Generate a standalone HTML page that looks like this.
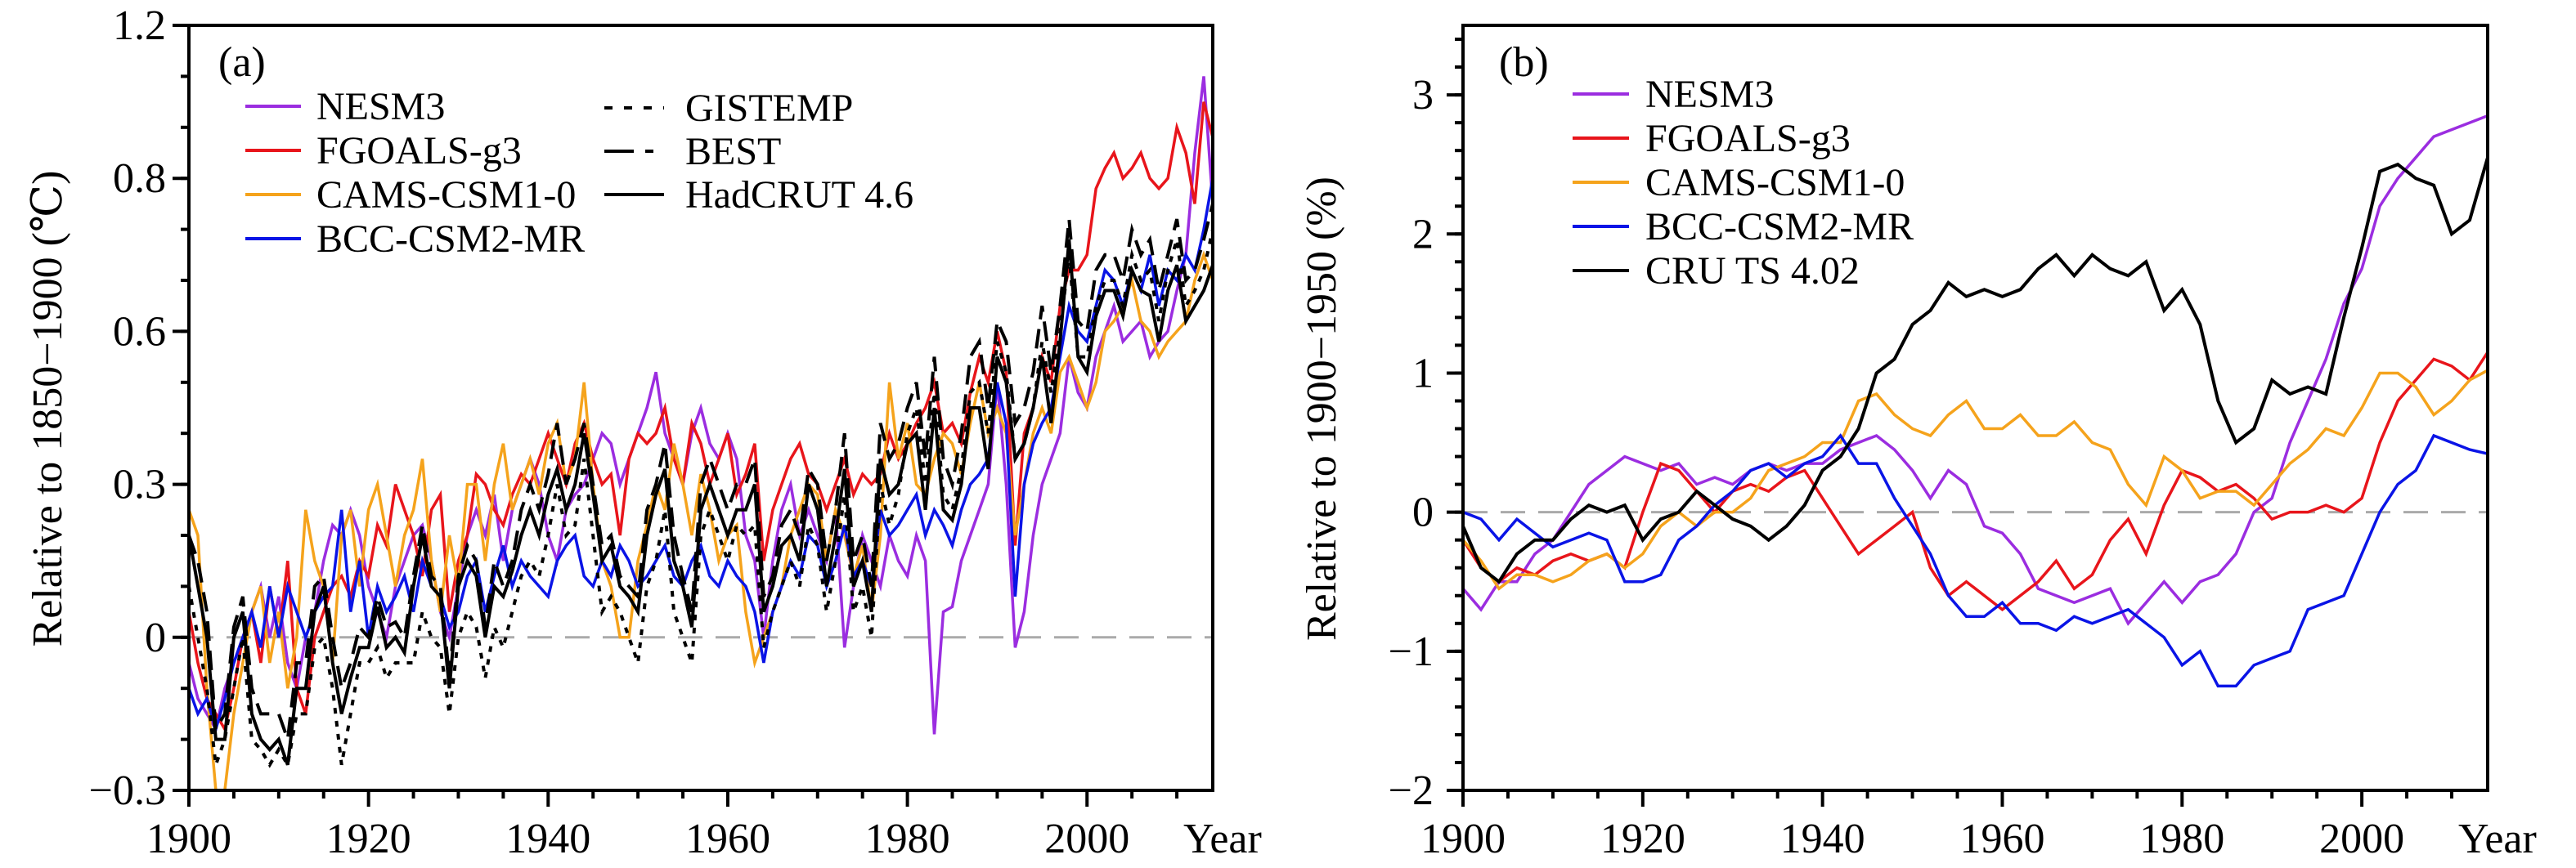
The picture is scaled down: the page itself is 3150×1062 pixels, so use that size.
<!DOCTYPE html>
<html><head><meta charset="utf-8"><title>Temperature and precipitation anomalies chart</title>
<style>
html,body{margin:0;padding:0;background:#fff;}
svg{display:block;}
svg text{font-family:"Liberation Serif","DejaVu Serif",serif;}
</style></head>
<body>
<svg id="chart" xmlns="http://www.w3.org/2000/svg" width="3150" height="1062" viewBox="0 0 3150 1062" font-family="Liberation Serif, serif">
<rect width="3150" height="1062" fill="#fff"/>
<g id="pa"></g>
<g id="pb"></g>
</svg>
<script>
// ---------- Panel (a) data: annual 1900-2014 ----------
const yearsAStart = 1900;
const hadcrut = [0.2,0.1,0.0,-0.2,-0.2,0.0,0.05,-0.15,-0.2,-0.22,
-0.2,-0.25,-0.1,-0.1,0.05,0.1,-0.05,-0.15,-0.08,-0.02,
-0.02,0.06,-0.02,0.0,-0.03,0.1,0.2,0.1,0.08,-0.1,
0.1,0.15,0.12,0.0,0.1,0.08,0.13,0.2,0.25,0.2,
0.28,0.33,0.25,0.3,0.4,0.28,0.15,0.18,0.1,0.08,
0.05,0.2,0.28,0.33,0.15,0.1,0.02,0.25,0.3,0.25,
0.2,0.25,0.25,0.3,0.05,0.1,0.18,0.2,0.15,0.3,
0.25,0.1,0.2,0.33,0.1,0.15,0.05,0.35,0.28,0.3,
0.38,0.4,0.25,0.45,0.25,0.23,0.3,0.45,0.45,0.33,
0.55,0.5,0.35,0.38,0.45,0.55,0.42,0.58,0.78,0.55,
0.52,0.63,0.68,0.68,0.63,0.72,0.68,0.67,0.58,0.68,
0.73,0.62,0.65,0.68,0.73];
const gistemp = [0.1,0.0,-0.1,-0.25,-0.2,-0.1,0.0,-0.2,-0.22,-0.25,
-0.22,-0.25,-0.15,-0.15,-0.02,0.0,-0.1,-0.25,-0.15,-0.05,
-0.05,-0.02,-0.08,-0.05,-0.05,-0.05,0.05,0.0,-0.02,-0.15,
0.0,0.05,0.02,-0.08,0.02,-0.02,0.05,0.12,0.15,0.12,
0.2,0.3,0.2,0.22,0.35,0.2,0.05,0.08,0.05,0.0,
-0.05,0.1,0.15,0.25,0.05,0.0,-0.05,0.2,0.25,0.2,
0.15,0.22,0.2,0.22,-0.02,0.05,0.1,0.15,0.1,0.22,
0.18,0.05,0.15,0.28,0.05,0.1,0.0,0.3,0.22,0.28,
0.4,0.45,0.3,0.48,0.28,0.25,0.33,0.48,0.5,0.4,
0.58,0.52,0.35,0.38,0.45,0.58,0.48,0.6,0.75,0.55,
0.55,0.65,0.7,0.7,0.65,0.75,0.7,0.72,0.62,0.72,
0.78,0.65,0.68,0.72,0.8];
const best = [0.2,0.15,0.05,-0.18,-0.15,0.02,0.08,-0.1,-0.15,-0.15,
-0.15,-0.2,-0.05,-0.05,0.1,0.12,0.0,-0.1,-0.05,0.02,
0.0,0.08,0.02,0.03,0.0,0.12,0.22,0.12,0.1,-0.08,
0.12,0.18,0.15,0.02,0.15,0.1,0.15,0.25,0.3,0.25,
0.32,0.42,0.3,0.35,0.42,0.3,0.18,0.2,0.12,0.1,
0.08,0.25,0.3,0.38,0.2,0.12,0.05,0.3,0.35,0.3,
0.25,0.3,0.3,0.35,0.08,0.12,0.22,0.25,0.2,0.33,
0.3,0.15,0.25,0.4,0.15,0.2,0.1,0.42,0.35,0.38,
0.45,0.5,0.35,0.55,0.35,0.3,0.4,0.55,0.58,0.45,
0.62,0.58,0.42,0.45,0.52,0.65,0.52,0.65,0.82,0.62,
0.6,0.72,0.75,0.75,0.7,0.8,0.75,0.78,0.68,0.75,
0.82,0.7,0.72,0.78,0.85];
const nesm3A = [-0.05,-0.12,-0.15,-0.18,-0.1,-0.05,0.0,0.05,0.1,0.0,
0.08,-0.05,-0.1,0.0,0.05,0.15,0.22,0.2,0.25,0.2,
0.1,0.05,0.0,0.1,0.15,0.2,0.22,0.15,0.05,0.0,
0.1,0.2,0.25,0.2,0.28,0.15,0.25,0.3,0.35,0.3,
0.2,0.15,0.25,0.28,0.3,0.35,0.4,0.38,0.3,0.35,
0.4,0.45,0.52,0.4,0.35,0.3,0.4,0.45,0.38,0.35,
0.4,0.35,0.2,0.15,0.0,0.15,0.25,0.3,0.2,0.25,
0.2,0.15,0.25,-0.02,0.1,0.2,0.15,0.1,0.2,0.15,
0.12,0.2,0.15,-0.19,0.05,0.06,0.15,0.2,0.25,0.3,
0.5,0.3,-0.02,0.05,0.2,0.3,0.35,0.4,0.55,0.48,
0.45,0.55,0.6,0.65,0.58,0.6,0.62,0.55,0.58,0.6,
0.68,0.75,0.95,1.1,0.85];
const fgoalsA = [0.05,-0.05,-0.12,-0.15,-0.18,-0.1,0.0,0.05,-0.05,0.1,
0.0,0.15,-0.1,-0.15,0.0,0.05,0.1,0.12,0.08,0.15,
0.12,0.22,0.18,0.3,0.25,0.2,0.12,0.25,0.28,0.05,
0.15,0.2,0.32,0.3,0.25,0.22,0.28,0.32,0.3,0.35,
0.4,0.35,0.3,0.38,0.42,0.35,0.3,0.32,0.2,0.35,
0.4,0.38,0.4,0.45,0.35,0.3,0.42,0.38,0.3,0.35,
0.4,0.28,0.32,0.38,0.15,0.25,0.3,0.35,0.38,0.32,
0.3,0.25,0.3,0.35,0.28,0.32,0.3,0.32,0.4,0.35,
0.38,0.42,0.45,0.5,0.4,0.42,0.38,0.48,0.55,0.5,
0.6,0.52,0.18,0.4,0.45,0.55,0.5,0.65,0.72,0.72,
0.75,0.88,0.92,0.95,0.9,0.92,0.95,0.9,0.88,0.9,
1.0,0.95,0.85,1.05,0.98];
const camsA = [0.25,0.2,-0.1,-0.3,-0.3,-0.15,-0.05,0.05,0.1,-0.05,
0.05,-0.1,0.0,0.25,0.15,0.1,-0.05,0.2,0.25,0.1,
0.25,0.3,0.2,0.1,0.2,0.25,0.35,0.15,0.05,0.2,
0.1,0.3,0.3,0.15,0.3,0.38,0.25,0.3,0.35,0.28,
0.38,0.42,0.3,0.35,0.5,0.3,0.15,0.1,0.0,0.0,
0.15,0.22,0.3,0.25,0.38,0.3,0.2,0.32,0.25,0.15,
0.2,0.22,0.05,-0.05,0.0,0.05,0.1,0.2,0.25,0.3,
0.28,0.15,0.25,0.2,0.12,0.18,0.05,0.2,0.5,0.35,
0.42,0.3,0.28,0.35,0.4,0.38,0.32,0.42,0.5,0.4,
0.45,0.4,0.2,0.3,0.4,0.45,0.4,0.52,0.55,0.5,
0.45,0.5,0.6,0.62,0.65,0.7,0.62,0.6,0.55,0.58,
0.6,0.62,0.7,0.75,0.7];
const bccA = [-0.1,-0.15,-0.12,-0.18,-0.12,-0.05,0.0,0.05,-0.02,0.1,
0.0,0.1,0.05,0.0,0.05,0.08,0.1,0.25,0.05,0.15,
0.0,0.1,0.05,0.08,0.12,0.05,0.15,0.1,0.08,0.02,
0.05,0.12,0.15,0.05,0.12,0.18,0.1,0.15,0.12,0.1,
0.08,0.15,0.18,0.2,0.12,0.1,0.15,0.12,0.18,0.15,
0.1,0.12,0.15,0.18,0.12,0.1,0.15,0.18,0.12,0.1,
0.15,0.12,0.1,0.05,-0.05,0.05,0.1,0.15,0.12,0.2,
0.18,0.1,0.15,0.22,0.12,0.15,0.1,0.25,0.2,0.22,
0.25,0.28,0.2,0.25,0.22,0.18,0.25,0.3,0.32,0.35,
0.5,0.42,0.08,0.3,0.38,0.42,0.45,0.55,0.65,0.6,
0.58,0.65,0.72,0.7,0.65,0.72,0.68,0.75,0.65,0.72,
0.7,0.75,0.72,0.8,0.9];
const yTickValsA = [-0.3,0,0.3,0.6,0.9,1.2];
const yTickLabelsA = ["\u22120.3","0","0.3","0.6","0.8","1.2"];
const xTickYears = [1900,1920,1940,1960,1980,2000];

// ---------- Panel (b) data: every 2 years 1900-2014 ----------
const yearsB = [1900,1902,1904,1906,1908,1910,1912,1914,1916,1918,1920,1922,1924,1926,1928,1930,1932,1934,1936,1938,1940,1942,1944,1946,1948,1950,1952,1954,1956,1958,1960,1962,1964,1966,1968,1970,1972,1974,1976,1978,1980,1982,1984,1986,1988,1990,1992,1994,1996,1998,2000,2002,2004,2006,2008,2010,2012,2014];
const cruB = [-0.1,-0.4,-0.5,-0.3,-0.2,-0.2,-0.05,0.05,0.0,0.05,-0.2,-0.05,0.0,0.15,0.05,-0.05,-0.1,-0.2,-0.1,0.05,0.3,0.4,0.6,1.0,1.1,1.35,1.45,1.65,1.55,1.6,1.55,1.6,1.75,1.85,1.7,1.85,1.75,1.7,1.8,1.45,1.6,1.35,0.8,0.5,0.6,0.95,0.85,0.9,0.85,1.4,1.9,2.45,2.5,2.4,2.35,2.0,2.1,2.55];
const nesm3B = [-0.55,-0.7,-0.5,-0.5,-0.3,-0.2,0.0,0.2,0.3,0.4,0.35,0.3,0.35,0.2,0.25,0.2,0.3,0.35,0.3,0.35,0.35,0.45,0.5,0.55,0.45,0.3,0.1,0.3,0.2,-0.1,-0.15,-0.3,-0.55,-0.6,-0.65,-0.6,-0.55,-0.8,-0.65,-0.5,-0.65,-0.5,-0.45,-0.3,0.0,0.1,0.5,0.8,1.1,1.5,1.75,2.2,2.4,2.55,2.7,2.75,2.8,2.85];
const fgoalsB = [-0.2,-0.4,-0.5,-0.4,-0.45,-0.35,-0.3,-0.35,-0.3,-0.4,0.0,0.35,0.3,0.15,0.0,0.15,0.2,0.15,0.25,0.3,0.1,-0.1,-0.3,-0.2,-0.1,0.0,-0.4,-0.6,-0.5,-0.6,-0.7,-0.6,-0.5,-0.35,-0.55,-0.45,-0.2,-0.05,-0.3,0.05,0.3,0.25,0.15,0.2,0.1,-0.05,0.0,0.0,0.05,0.0,0.1,0.5,0.8,0.95,1.1,1.05,0.95,1.15];
const camsB = [-0.2,-0.35,-0.55,-0.45,-0.45,-0.5,-0.45,-0.35,-0.3,-0.4,-0.3,-0.1,0.0,-0.1,0.0,0.0,0.1,0.3,0.35,0.4,0.5,0.5,0.8,0.85,0.7,0.6,0.55,0.7,0.8,0.6,0.6,0.7,0.55,0.55,0.65,0.5,0.45,0.2,0.05,0.4,0.3,0.1,0.15,0.15,0.05,0.2,0.35,0.45,0.6,0.55,0.75,1.0,1.0,0.9,0.7,0.8,0.95,1.02];
const bccB = [0.0,-0.05,-0.2,-0.05,-0.15,-0.25,-0.2,-0.15,-0.2,-0.5,-0.5,-0.45,-0.2,-0.1,0.05,0.15,0.3,0.35,0.25,0.35,0.4,0.55,0.35,0.35,0.1,-0.1,-0.3,-0.6,-0.75,-0.75,-0.65,-0.8,-0.8,-0.85,-0.75,-0.8,-0.75,-0.7,-0.8,-0.9,-1.1,-1.0,-1.25,-1.25,-1.1,-1.05,-1.0,-0.7,-0.65,-0.6,-0.3,0.0,0.2,0.3,0.55,0.5,0.45,0.42];
const yTickValsB = [-2,-1,0,1,2,3];
const yTickLabelsB = ["\u22122","\u22121","0","1","2","3"];

const NS = "http://www.w3.org/2000/svg";
const FONT = "Liberation Serif, DejaVu Serif, serif";
function mk(parent, tag, attrs, text){
  const e = document.createElementNS(NS, tag);
  for (const k in attrs) e.setAttribute(k, attrs[k]);
  if (tag === "text") e.setAttribute("font-family", FONT);
  if (text !== undefined) e.textContent = text;
  parent.appendChild(e);
  return e;
}

const TOP = 31, BOT = 967;
function makeScales(left, right, yMin, yMax){
  return {
    x: yr => left + (yr - 1900) * (right - left) / 114,
    y: v => BOT - (v - yMin) * (BOT - TOP) / (yMax - yMin),
    left, right
  };
}

function drawFrame(g, s, yMin, yMax, minorStep, majorVals, majorLabels, labelEnd, title, titleX){
  const z = mk(g, "line", {x1:s.left, x2:s.right, y1:s.y(0), y2:s.y(0), stroke:"#aaaaaa", "stroke-width":3, "stroke-dasharray":"30 16"});
  
  
  const nMinor = Math.floor((yMax - yMin) / minorStep + 1e-6);
  for (let i = 0; i <= nMinor; i++){
    const v = yMin + i * minorStep;
    const t = mk(g, "line", {x1:s.left-10, x2:s.left, y1:s.y(v), y2:s.y(v), stroke:"#000", "stroke-width":4});
    
    
  }
  majorVals.forEach((v, i) => {
    const t = mk(g, "line", {x1:s.left-20, x2:s.left, y1:s.y(v), y2:s.y(v), stroke:"#000", "stroke-width":4});
    
    
    const l = mk(g, "text", {x:labelEnd, y:s.y(v)+17, "text-anchor":"end", "font-size":52}, majorLabels[i]);
    
    
  });
  for (let yr = 1900; yr <= 2014; yr += 5){
    const major = (yr % 20 === 0);
    const t = mk(g, "line", {x1:s.x(yr), x2:s.x(yr), y1:BOT, y2:BOT + (major ? 20 : 10), stroke:"#000", "stroke-width":4});
    
    
  }
  xTickYears.forEach(yr => {
    const l = mk(g, "text", {x:s.x(yr), y:1043, "text-anchor":"middle", "font-size":52}, String(yr));
    
    
  });
  const yl = mk(g, "text", {x:s.right - 36, y:1043, "text-anchor":"start", "font-size":52}, "Year");
  
  
  const tt = mk(g, "text", {x:titleX, y:500, "text-anchor":"middle", "font-size":52, transform:"rotate(-90 "+titleX+" 500)"}, title);
  
  
}

function drawSeries(g, s, xs, vals, color, width, dash, name){
  let d = "";
  vals.forEach((v, i) => { d += (i ? "L" : "M") + s.x(xs(i)).toFixed(1) + " " + s.y(v).toFixed(1); });
  const attrs = {d:d, fill:"none", stroke:color, "stroke-width":width, "stroke-linejoin":"miter"};
  if (dash) attrs["stroke-dasharray"] = dash;
  const p = mk(g, "path", attrs);
  
  
}

function drawBox(g, s){
  const b = mk(g, "rect", {x:s.left, y:TOP, width:s.right-s.left, height:BOT-TOP, fill:"none", stroke:"#000", "stroke-width":4});
  
  
}

function legendEntry(g, x1, x2, tx, y, color, dash, label, name){
  const le = mk(g, "g", {});
  
  
  const a = {x1:x1, x2:x2, y1:y, y2:y, stroke:color, "stroke-width":4};
  if (dash) a["stroke-dasharray"] = dash;
  mk(le, "line", a);
  mk(le, "text", {x:tx, y:y+16, "font-size":48}, label);
}

const clipDefs = mk(document.getElementById("chart"), "defs", {});
function clip(id, s){
  const c = mk(clipDefs, "clipPath", {id:id});
  mk(c, "rect", {x:s.left, y:TOP, width:s.right-s.left, height:BOT-TOP});
}

// ---------- Panel A ----------
const pa = document.getElementById("pa");
const sA = makeScales(231, 1483, -0.3, 1.2);
clip("clipA", sA);
drawFrame(pa, sA, -0.3, 1.2, 0.1, yTickValsA, yTickLabelsA, 203, "Relative to 1850\u22121900 (\u2103)", 75);
const dA = mk(pa, "g", {"clip-path":"url(#clipA)"});


const xa = i => yearsAStart + i;
drawSeries(dA, sA, xa, nesm3A, "#9b2de0", 3.5, null, "series-nesm3");
drawSeries(dA, sA, xa, fgoalsA, "#e8151b", 3.5, null, "series-fgoals-g3");
drawSeries(dA, sA, xa, camsA, "#f5a31c", 3.5, null, "series-cams-csm1-0");
drawSeries(dA, sA, xa, bccA, "#0a14e6", 3.5, null, "series-bcc-csm2-mr");
drawSeries(dA, sA, xa, gistemp, "#000", 4, "7 9", "series-gistemp");
drawSeries(dA, sA, xa, best, "#000", 4, "24 12", "series-best");
drawSeries(dA, sA, xa, hadcrut, "#000", 4, null, "series-hadcrut-4-6");
drawBox(pa, sA);
const la = mk(pa, "text", {x:267, y:93, "font-size":52}, "(a)");


const legA = mk(pa, "g", {});


legendEntry(legA, 300, 368, 387, 130, "#9b2de0", null, "NESM3", "legend-entry-nesm3");
legendEntry(legA, 300, 368, 387, 184, "#e8151b", null, "FGOALS-g3", "legend-entry-fgoals-g3");
legendEntry(legA, 300, 368, 387, 238, "#f5a31c", null, "CAMS-CSM1-0", "legend-entry-cams-csm1-0");
legendEntry(legA, 300, 368, 387, 292, "#0a14e6", null, "BCC-CSM2-MR", "legend-entry-bcc-csm2-mr");
legendEntry(legA, 739, 812, 838, 132, "#000", "10 14", "GISTEMP", "legend-entry-gistemp");
legendEntry(legA, 739, 812, 838, 185, "#000", "36 14 10 30", "BEST", "legend-entry-best");
legendEntry(legA, 739, 812, 838, 238, "#000", null, "HadCRUT 4.6", "legend-entry-hadcrut");

// ---------- Panel B ----------
const pb = document.getElementById("pb");
const sB = makeScales(1789, 3042, -2, 3.5);
clip("clipB", sB);
drawFrame(pb, sB, -2, 3.5, 0.2, yTickValsB, yTickLabelsB, 1753, "Relative to 1900\u22121950 (%)", 1633);
const dB = mk(pb, "g", {"clip-path":"url(#clipB)"});


const xb = i => yearsB[i];
drawSeries(dB, sB, xb, nesm3B, "#9b2de0", 3.5, null, "series-nesm3-precip");
drawSeries(dB, sB, xb, fgoalsB, "#e8151b", 3.5, null, "series-fgoals-g3-precip");
drawSeries(dB, sB, xb, camsB, "#f5a31c", 3.5, null, "series-cams-csm1-0-precip");
drawSeries(dB, sB, xb, bccB, "#0a14e6", 3.5, null, "series-bcc-csm2-mr-precip");
drawSeries(dB, sB, xb, cruB, "#000", 4, null, "series-cru-ts-4-02");
drawBox(pb, sB);
const lb = mk(pb, "text", {x:1833, y:93, "font-size":52}, "(b)");


const legB = mk(pb, "g", {});


legendEntry(legB, 1923, 1992, 2012, 115, "#9b2de0", null, "NESM3", "legend-entry-nesm3-b");
legendEntry(legB, 1923, 1992, 2012, 169, "#e8151b", null, "FGOALS-g3", "legend-entry-fgoals-g3-b");
legendEntry(legB, 1923, 1992, 2012, 223, "#f5a31c", null, "CAMS-CSM1-0", "legend-entry-cams-csm1-0-b");
legendEntry(legB, 1923, 1992, 2012, 277, "#0a14e6", null, "BCC-CSM2-MR", "legend-entry-bcc-csm2-mr-b");
legendEntry(legB, 1923, 1992, 2012, 331, "#000", null, "CRU TS 4.02", "legend-entry-cru-ts-4-02");
</script>
</body></html>
